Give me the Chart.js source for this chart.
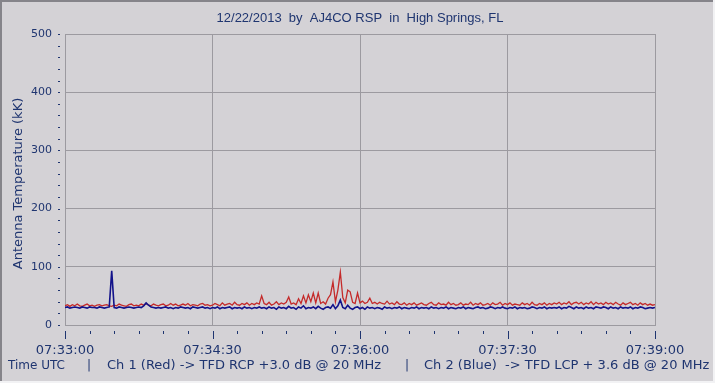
<!DOCTYPE html>
<html>
<head>
<meta charset="utf-8">
<script src="https://cdn.jsdelivr.net/npm/chart.js@4/dist/chart.umd.min.js"></script>
<style>
  html,body{margin:0;padding:0;background:#d4d2d6;}
  #wrap{width:715px;height:383px;position:relative;}
</style>
</head>
<body>
<div id="wrap"><canvas id="rsp" width="715" height="383"></canvas></div>
<script>
/* ---------- data ---------- */
const sampleStep = 1.5;   // seconds between samples
const xTickValues = [0, 90, 180, 270, 360];
const xTickLabels = ['07:33:00', '07:34:30', '07:36:00', '07:37:30', '07:39:00'];
const yTickValues = [0, 100, 200, 300, 400, 500];

// Ch 1 (Red) - RCP, kK
const ch1Red = [
  33,35,32,35,33,36,33,32,34,36,33,34,32,34,35,33,34,35,33,32,
  34,33,36,34,33,32,35,36,33,34,33,36,34,37,34,33,36,34,33,35,
  36,33,34,37,34,36,33,34,36,34,37,33,35,34,33,36,37,34,35,33,
  34,37,35,33,38,34,36,37,34,39,35,34,37,35,38,34,37,35,38,36,
  50,37,35,39,34,36,40,35,38,36,39,48,36,38,35,45,37,50,38,52,
  40,55,38,55,37,40,36,46,52,74,40,60,91,47,38,60,57,39,37,55,
  38,41,37,39,46,37,39,36,39,37,36,41,36,38,35,40,36,35,38,34,
  37,35,38,34,36,38,35,34,37,39,35,34,38,35,36,34,39,35,37,34,
  35,38,34,36,35,39,34,37,35,38,34,35,37,34,38,35,36,39,34,37,
  35,38,34,36,35,34,38,35,37,34,39,35,34,37,35,38,34,37,35,38,
  36,39,35,38,36,40,35,38,39,36,39,35,38,36,40,35,39,36,38,35,
  39,36,38,35,39,36,34,38,35,37,39,35,37,34,38,35,37,34,36,34,
  35
];
// Ch 2 (Blue) - LCP, kK
const ch2Blue = [
  30,31,29,30,31,30,29,31,30,29,31,30,30,29,31,30,29,30,31,93,
  30,29,31,30,29,30,31,30,29,30,31,30,33,38,34,31,30,29,30,29,
  30,31,29,30,28,30,29,31,30,29,30,28,31,30,29,30,31,29,30,28,
  30,29,31,28,30,29,30,31,28,30,29,30,28,31,29,30,28,30,29,31,
  29,30,28,31,29,30,27,31,29,30,28,32,29,30,27,31,29,33,28,30,
  29,31,28,32,29,27,30,31,29,35,28,33,43,30,28,34,29,27,30,31,
  28,30,27,31,29,30,28,30,29,27,31,29,30,28,30,29,31,28,30,29,
  28,30,29,31,28,30,29,30,28,31,29,30,28,30,29,31,28,30,29,28,
  30,29,31,28,30,29,28,30,31,29,30,28,29,31,30,28,30,29,31,29,
  28,30,29,31,28,30,29,30,28,29,31,30,28,30,29,31,28,30,29,30,
  29,31,28,30,29,32,30,28,31,29,30,28,31,29,30,28,31,30,29,31,
  30,28,31,29,30,28,31,29,30,29,31,28,30,29,31,30,28,29,30,29,
  30
];

const titleText = '12/22/2013  by  AJ4CO RSP  in  High Springs, FL';
const yTitleText = 'Antenna Temperature (kK)';
// [text, left x, font size]
const footerParts = [
  ['Time UTC', 8, 12], ['|', 87, 12], ['Ch 1 (Red) -> TFD RCP +3.0 dB @ 20 MHz', 107, 13],
  ['|', 405, 12], ['Ch 2 (Blue)  -> TFD LCP + 3.6 dB @ 20 MHz', 424, 13]
];

const BG = '#d4d2d6', GRID = '#9c9aa0', INK = '#1f3570';

const pts = arr => arr.map((v, i) => ({x: i * sampleStep, y: v}));

/* ---------- frame, titles, minor ticks ---------- */
const framePlugin = {
  id: 'frame',
  beforeDraw(chart){
    const {ctx, width, height} = chart;
    ctx.save();
    ctx.fillStyle = BG; ctx.fillRect(0, 0, width, height);
    ctx.fillStyle = '#85848a'; ctx.fillRect(0, 0, width, 2); ctx.fillRect(0, 0, 2, height);
    ctx.fillStyle = '#f2f2f4'; ctx.fillRect(width-2, 0, 2, height); ctx.fillRect(0, height-2, width, 2);
    ctx.restore();
  },
  afterDraw(chart){
    const {ctx, chartArea:a, scales} = chart;
    const xs = scales.x, ys = scales.y;
    ctx.save();
    ctx.fillStyle = INK; ctx.strokeStyle = INK; ctx.lineWidth = 1;
    // x ticks: majors every 90 s, minors every 15 s
    for(let t = xs.min; t <= xs.max; t += 15){
      const px = Math.round(xs.getPixelForValue(t)) + 0.5;
      const major = xTickValues.includes(t);
      ctx.beginPath(); ctx.moveTo(px, a.bottom + 6); ctx.lineTo(px, a.bottom + (major ? 14 : 9)); ctx.stroke();
    }
    // y ticks every 20
    for(let v = ys.min; v <= ys.max; v += 20){
      const py = Math.round(ys.getPixelForValue(v));
      ctx.fillRect(a.left - 7, py, 2, 1);
    }
    // title
    ctx.textAlign = 'center'; ctx.textBaseline = 'middle';
    ctx.font = '13px "Liberation Sans", Arial, sans-serif';
    ctx.fillText(titleText, (a.left + a.right) / 2, 18);
    // y axis title
    ctx.save();
    ctx.translate(19, (a.top + a.bottom) / 2 + 4);
    ctx.rotate(-Math.PI / 2);
    ctx.font = '13px "DejaVu Sans", Verdana, sans-serif';
    ctx.fillText(yTitleText, 0, 0);
    ctx.restore();
    // footer
    ctx.textAlign = 'left';
    footerParts.forEach(([s, x, size]) => {
      ctx.font = size + 'px "DejaVu Sans", Verdana, sans-serif';
      ctx.fillText(s, x, 366);
    });
    ctx.restore();
  }
};

new Chart(document.getElementById('rsp'), {
  type: 'line',
  data: {
    datasets: [
      {label: 'Ch 1 (Red)', data: pts(ch1Red), borderColor: '#c42a2a', borderWidth: 1.3, pointRadius: 0, order: 2},
      {label: 'Ch 2 (Blue)', data: pts(ch2Blue), borderColor: '#12128a', borderWidth: 1.6, pointRadius: 0, order: 1}
    ]
  },
  options: {
    responsive: false, animation: false,
    layout: {padding: {top: 34, right: 60, bottom: 0, left: 0}},
    plugins: {legend: {display: false}, tooltip: {enabled: false}, title: {display: false}},
    scales: {
      x: {
        type: 'linear', min: 0, max: 360,
        afterFit: s => { s.height = 58; },
        afterBuildTicks: s => { s.ticks = xTickValues.map(v => ({value: v})); },
        grid: {color: GRID, drawTicks: false},
        border: {color: GRID},
        ticks: {padding: 18, color: INK, font: {family: '"DejaVu Sans", Verdana, sans-serif', size: 13},
                maxRotation: 0, callback: v => xTickLabels[xTickValues.indexOf(v)]}
      },
      y: {
        min: 0, max: 500,
        afterFit: s => { s.width = 65; },
        afterBuildTicks: s => { s.ticks = yTickValues.map(v => ({value: v})); },
        grid: {color: GRID, drawTicks: false},
        border: {color: GRID},
        ticks: {padding: 13, color: INK, font: {family: '"DejaVu Sans", Verdana, sans-serif', size: 11}}
      }
    }
  },
  plugins: [framePlugin]
});
</script>
</body>
</html>
